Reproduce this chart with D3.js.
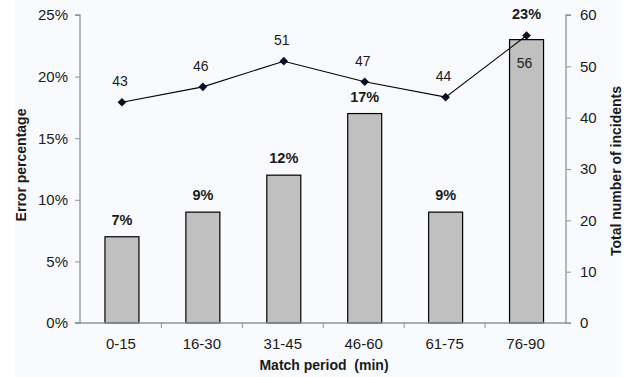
<!DOCTYPE html>
<html><head><meta charset="utf-8">
<script src="https://cdn.jsdelivr.net/npm/d3@7/dist/d3.min.js"></script>
<style>body{margin:0;background:#fff}svg{display:block;font-family:"Liberation Sans",Arial,sans-serif}</style>
</head><body><svg id="c" width="630" height="377"></svg>
<script>
const categories = ["0-15","16-30","31-45","46-60","61-75","76-90"];
const errorPct = [7, 9, 12, 17, 9, 23];
const incidents = [43, 46, 51, 47, 44, 56];
const leftTicks = [0,5,10,15,20,25];
const rightTicks = [0,10,20,30,40,50,60];
const incidentLabelPos = ["above","above","above","above","above","below"];

const svg = d3.select("#c");
const m = {l:80, r:566, t:15, b:323};
svg.append("rect").attr("x",15).attr("y",0).attr("width",606).attr("height",377).attr("fill","#f9fafd");

const x = d3.scaleBand().domain(categories).range([m.l+0.5, m.r]).paddingInner(0).paddingOuter(0);
const yL = d3.scaleLinear().domain([0,25]).range([m.b, m.t]);
const yR = d3.scaleLinear().domain([0,60]).range([m.b, m.t]);
const axisCol = "#8c969c", txt = "#1a1a1a";
const barW = x.bandwidth()*0.42;

// bars
svg.append("g").selectAll("rect").data(errorPct).join("rect")
  .attr("x",(d,i)=>x(categories[i])+x.bandwidth()/2-barW/2+1)
  .attr("y",d=>yL(d)).attr("width",barW).attr("height",d=>m.b-yL(d))
  .attr("fill","#c0c0c0").attr("stroke","#000").attr("stroke-width",1.2);

// axes
const gl = svg.append("g").attr("transform",`translate(${m.l},0)`)
  .call(d3.axisLeft(yL).tickValues(leftTicks).tickFormat(d=>d+"%").tickSize(5).tickPadding(7));
const gr = svg.append("g").attr("transform",`translate(${m.r},0)`)
  .call(d3.axisRight(yR).tickValues(rightTicks).tickSize(5).tickPadding(9));
const gx = svg.append("g").attr("transform",`translate(0,${m.b})`)
  .call(d3.axisBottom(x).tickSize(0).tickPadding(15));
// boundary ticks on x axis
svg.append("g").selectAll("line").data(categories.slice(1)).join("line")
  .attr("x1",d=>x(d)).attr("x2",d=>x(d)).attr("y1",m.b).attr("y2",m.b+5).attr("stroke",axisCol);
[gl,gr,gx].forEach(g=>{
  g.selectAll(".domain").attr("stroke",axisCol).attr("stroke-width",1.3);
  g.selectAll(".tick line").attr("stroke",axisCol);
  g.selectAll("text").attr("fill",txt).attr("font-size",15).attr("font-family","Liberation Sans, Arial, sans-serif");
});
gl.select(".domain").attr("d",`M-5,${m.t}H0V${m.b}H-5`);
gr.select(".domain").attr("d",`M5,${m.t}H0V${m.b}H5`);
gx.select(".domain").attr("d",`M${m.l-5},0H${m.r}`);

// line
const cx = (i)=>x(categories[i])+x.bandwidth()/2+1;
svg.append("path").datum(incidents)
  .attr("d",d3.line().x((d,i)=>cx(i)).y(d=>yR(d)))
  .attr("fill","none").attr("stroke","#000").attr("stroke-width",1.1);
svg.append("g").selectAll("path").data(incidents).join("path")
  .attr("d",d3.symbol(d3.symbolDiamond2,48))
  .attr("transform",(d,i)=>`translate(${cx(i)},${yR(d)})`).attr("fill","#0a0f22");

// labels
svg.append("g").selectAll("text").data(incidents).join("text")
  .attr("x",(d,i)=>cx(i)-2).attr("y",(d,i)=>incidentLabelPos[i]==="above"? yR(d)-16 : yR(d)+32)
  .attr("text-anchor","middle").attr("font-size",14).attr("fill",txt).text(d=>d);
svg.append("g").selectAll("text").data(errorPct).join("text")
  .attr("x",(d,i)=>cx(i)).attr("y",(d,i)=>incidentLabelPos[i]==="above"? yL(d)-12 : yL(d)-21)
  .attr("text-anchor","middle").attr("font-size",14.5).attr("font-weight","bold").attr("fill",txt).text(d=>d+"%");

// titles
svg.append("text").attr("x",324).attr("y",370).attr("text-anchor","middle")
  .attr("font-size",14).attr("font-weight","bold").attr("fill",txt).text("Match period  (min)").style("white-space","pre");
svg.append("text").attr("transform","translate(26,165) rotate(-90)").attr("text-anchor","middle")
  .attr("font-size",14).attr("font-weight","bold").attr("fill",txt).text("Error percentage");
svg.append("text").attr("transform","translate(621,171) rotate(-90)").attr("text-anchor","middle")
  .attr("font-size",14).attr("font-weight","bold").attr("fill",txt).text("Total number of incidents");
</script></body></html>
